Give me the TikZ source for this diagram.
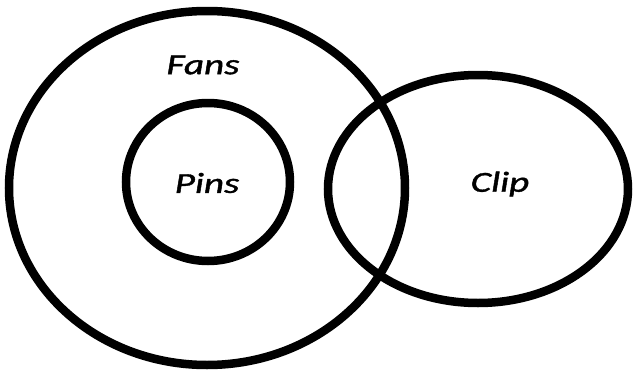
\documentclass[tikz,border=0pt]{standalone}
\usepackage{fontspec}
\setmainfont{Carlito}
\newfontfamily\lblfont{Carlito}[FakeBold=1.2]
\begin{document}
\begin{tikzpicture}[x=1pt,y=-1pt,
  setline/.style={line width=8.5pt,draw=black},
  lbl/.style={font=\lblfont\fontsize{29}{32}\selectfont\itshape, inner sep=0pt}]
\useasboundingbox (0,0) rectangle (633,370);
\draw[setline] (207,188) ellipse [x radius=198, y radius=177];
\draw[setline] (208,182) ellipse [x radius=82, y radius=79];
\draw[setline] (478,189) ellipse [x radius=150, y radius=114];
\node[lbl] (fans) at (203,65) {\scalebox{1.35}[1]{Fans}};
\node[lbl] (pins) at (207,183) {\scalebox{1.35}[1]{Pins}};
\node[lbl] (clip) at (500,184) {\scalebox{1.35}[1]{Clip}};
\end{tikzpicture}
\end{document}
